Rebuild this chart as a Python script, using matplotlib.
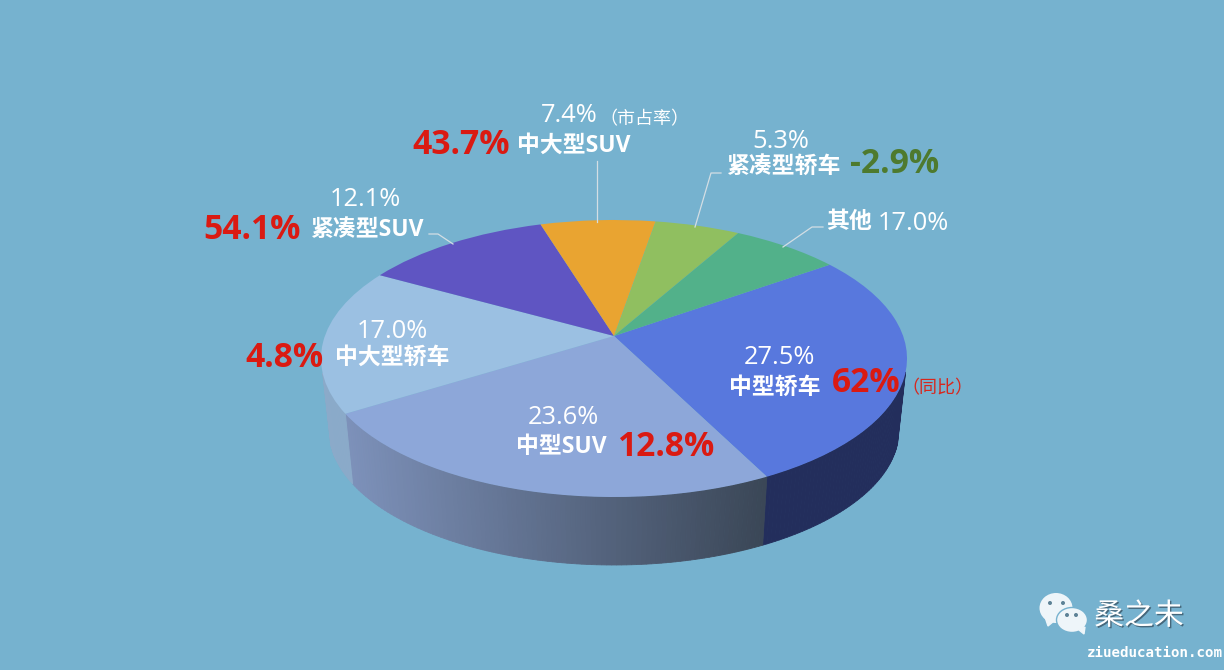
import numpy as np
import matplotlib
matplotlib.use('Agg')
import matplotlib.pyplot as plt
import matplotlib.patheffects as pe
from matplotlib.patches import Ellipse

plt.rcParams['font.family'] = ['Open Sans', 'Noto Sans CJK SC', 'DejaVu Sans']

W, H = 1224, 670

categories = ['中型轿车', '中型SUV', '中大型轿车', '紧凑型SUV', '中大型SUV', '紧凑型轿车', '其他']
# slice sizes as drawn in the picture (the labels do not quite follow them)
shares = [28.1, 27.2, 16.8, 10.7, 6.3, 4.7, 6.2]
share_labels = ['27.5%', '23.6%', '17.0%', '12.1%', '7.4%', '5.3%', '17.0%']
yoy_labels = ['62%', '12.8%', '4.8%', '54.1%', '43.7%', '-2.9%', None]
colors = ['#5878DD', '#8DA7D9', '#9BC0E2', '#5F55C2', '#E9A431', '#90BF60', '#52B18A']

RED = '#DA1A12'
GREEN = '#4E7A2E'
LINE = '#D3DEE4'

# ellipse of the top face and of the bottom rim, in pixels
cx, cy, rx, ry = 614, 358.5, 293, 138.5
cx2, cy2, rx2, ry2 = 614, 430, 285, 135
apex_y = 336
start = 42.6

fig = plt.figure(figsize=(W / 100, H / 100), dpi=100, facecolor='#76B2CF')

# side wall, pixel coordinates
ax = fig.add_axes([0, 0, 1, 1], zorder=0)
ax.set_xlim(0, W)
ax.set_ylim(H, 0)
ax.axis('off')


def mix(c1, c2, f):
    return tuple(np.array(c1) * (1 - f) + np.array(c2) * f)


side_left = (0x7E / 255, 0x92 / 255, 0xBB / 255)
side_right = (0x3A / 255, 0x46 / 255, 0x56 / 255)

edges = start - np.cumsum([0] + shares) * 3.6
for i in range(len(shares)):
    a1, a2 = edges[i], edges[i + 1]
    ts = np.arange(a2, a1, 1.0)
    ts = np.append(ts, a1)
    for t0, t1 in zip(ts[:-1], ts[1:]):
        mid = (t0 + t1) / 2
        # only the front of the pie shows a wall
        if np.sin(np.radians(mid)) > -0.1:
            continue
        xs = [cx + rx * np.cos(np.radians(t0)), cx + rx * np.cos(np.radians(t1)),
              cx2 + rx2 * np.cos(np.radians(t1)), cx2 + rx2 * np.cos(np.radians(t0))]
        ys = [cy - ry * np.sin(np.radians(t0)), cy - ry * np.sin(np.radians(t1)),
              cy2 - ry2 * np.sin(np.radians(t1)), cy2 - ry2 * np.sin(np.radians(t0))]
        if i == 0:
            c = '#232E5C'
        elif i == 1:
            f = (np.mean(xs) - 345) / (767 - 345)
            c = mix(side_left, side_right, np.clip(f, 0, 1))
        elif i == 2:
            c = '#8BAAC9'
        else:
            continue
        ax.fill(xs, ys, color=c, lw=0.6)

# top face
ax_top = fig.add_axes([(cx - rx) / W, 1 - (cy + ry) / H, 2 * rx / W, 2 * ry / H], zorder=1)
wedges, _ = ax_top.pie(shares, colors=colors, startangle=start, counterclock=False, radius=1)
ax_top.set_aspect('auto')
ax_top.set_xlim(-1, 1)
ax_top.set_ylim(-1, 1)
ax_top.patch.set_visible(False)
for w in wedges:
    w.set_clip_on(False)
    p = w.get_path()
    v = p.vertices.copy()
    # apex sits above the ellipse centre because of the perspective
    v[np.all(np.abs(v) < 1e-9, axis=1), 1] = (cy - apex_y) / ry
    p.vertices = v

# labels
tx = fig.add_axes([0, 0, 1, 1], zorder=2)
tx.set_xlim(0, W)
tx.set_ylim(H, 0)
tx.axis('off')
tx.patch.set_visible(False)

tx.plot([597, 597], [161, 222], color=LINE, lw=0.9)
tx.plot([721, 711, 695], [173, 173, 227], color=LINE, lw=0.9)
tx.plot([823, 812, 783], [227, 227, 247], color=LINE, lw=0.9)
tx.plot([429, 438, 453], [234, 234, 244], color=LINE, lw=0.9)


def share(x, y, s):
    tx.text(x, y, s, color='white', fontsize=18.3, ha='center', va='center')


def name(x, y, s):
    tx.text(x, y, s, color='white', fontsize=16.5, ha='center', va='center', fontweight='bold')


def yoy(x, y, s, c=RED):
    tx.text(x, y, s, color=c, fontsize=24.2, ha='center', va='center', fontweight='bold')


share_xy = [(779, 357), (563, 417), (392, 331), (365, 200), (569, 116), (781, 141), (913, 224)]
name_xy = [(775, 388), (561, 447), (392, 358), (367, 230), (574, 146), (783, 168), (849, 222)]
yoy_xy = [(866, 383), (666, 447), (284, 358), (252, 230), (461, 145), (895, 164)]

for i, cat in enumerate(categories):
    share(*share_xy[i], share_labels[i])
    name(*name_xy[i], cat)
    if yoy_labels[i] is not None:
        yoy(*yoy_xy[i], yoy_labels[i], GREEN if yoy_labels[i].startswith('-') else RED)

tx.text(644, 119, '（市占率）', color='white', fontsize=13, ha='center', va='center')
tx.text(937, 388, '（同比）', color='#D8261C', fontsize=13, ha='center', va='center')

# watermark
ice = '#EEF5F9'
bg = '#76B2CF'
tx.add_patch(Ellipse((1056, 608), 33, 30, fc=ice, ec='none'))
tx.fill([1045, 1048, 1054], [617, 626, 621], color=ice)
tx.add_patch(Ellipse((1072, 620), 31, 25, fc=ice, ec=bg, lw=1))
tx.fill([1079, 1084, 1085], [630, 634, 627], color=ice)
for ex, ey in [(1050, 603), (1063, 603), (1067, 615), (1076, 615)]:
    tx.add_patch(Ellipse((ex, ey), 4, 4, fc='#5D8296', ec='none'))

tx.text(1139, 616, '桑之未', color='white', fontsize=21.5, ha='center', va='center',
        family=['Noto Sans CJK SC', 'DejaVu Sans'],
        path_effects=[pe.withSimplePatchShadow(offset=(1, -1), shadow_rgbFace='#3A5566', alpha=0.8)])
tx.text(1087, 653, 'ziueducation.com', color='white', fontsize=10.2, ha='left', va='center',
        family='DejaVu Sans Mono', fontweight='bold')

fig.savefig('out.png', dpi=100, facecolor=fig.get_facecolor())
